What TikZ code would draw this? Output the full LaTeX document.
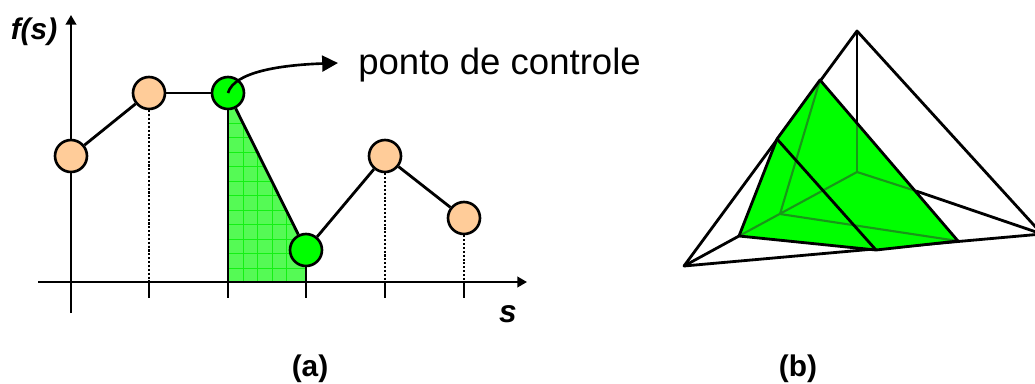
\documentclass[tikz,border=0pt]{standalone}
\usepackage{fontspec}
\usetikzlibrary{arrows.meta}
\setmainfont{Liberation Sans}
\definecolor{pele}{RGB}{255,204,153}
\definecolor{verde}{RGB}{0,255,0}
\definecolor{verdeclaro}{RGB}{85,250,85}
\definecolor{verdegrade}{RGB}{20,240,20}
\definecolor{verdeoculto}{RGB}{25,150,25}
\tikzset{
	ponto/.style={circle, draw, line width=1.5pt, minimum size=6.4mm, inner sep=0pt, fill=pele},
	pontoverde/.style={ponto, fill=verde},
	eixo/.style={line width=1.3pt},
	aresta/.style={line width=1.6pt, line join=round},
	oculta/.style={line width=1.2pt, color=verdeoculto},
	rotulo/.style={font=\fontsize{20.8}{24}\selectfont, inner sep=0pt}
}
\begin{document}
\begin{tikzpicture}[x=0.02cm, y=-0.02cm]
\useasboundingbox (0,0) rectangle (1035,383);

% Area sob o segmento
\fill[verdeclaro] (228,93) -- (306,250) -- (306,282) -- (228,282) -- cycle;
\begin{scope}
	\clip (228,93) -- (306,250) -- (306,282) -- (228,282) -- cycle;
	\foreach \x in {243, 257.5, ..., 300}
		\draw[verdegrade, line width=0.5pt] (\x,93) -- (\x,282);
	\foreach \y in {123, 137.5, ..., 280}
		\draw[verdegrade, line width=0.5pt] (228,\y) -- (306,\y);
\end{scope}

% Eixos
\coordinate (oy) at (71,313);
\coordinate (fy) at (71,15);
\coordinate (ox) at (38,282);
\coordinate (fx) at (527,282);
\draw[eixo, -{Triangle[length=5.5pt, width=6pt]}] (oy) -- (fy);
\draw[eixo, -{Triangle[length=5.5pt, width=6pt]}] (ox) -- (fx);

% Marcas
\foreach \x in {149, 228, 306, 385, 464}
	\draw[eixo] (\x,282) -- (\x,298);

% Pontos de controle
\node[ponto] (p1) at (71,156) {};
\node[ponto] (p2) at (149,93) {};
\node[pontoverde] (p3) at (228,93) {};
\node[pontoverde] (p4) at (306,250) {};
\node[ponto] (p5) at (385,156) {};
\node[ponto] (p6) at (464,218) {};

\draw[aresta] (p1) -- (p2);
\draw[aresta] (p2) -- (p3);
\draw[aresta] (p3) -- (p4);
\draw[aresta] (p4) -- (p5);
\draw[aresta] (p5) -- (p6);

\foreach \p/\q in {p2/149, p5/385, p6/464}
	\draw[line width=1.2pt, densely dotted] (\p) -- (\q,282);
\draw[aresta] (p3) -- (228,282);
\draw[eixo] (p4) -- (306,282);

% Seta
\node[rotulo, anchor=west] (rc) at (358,65) {ponto de controle};
\coordinate (fs) at (338,63);
\draw[line width=1.5pt, -{Triangle[length=9pt, width=9pt]}] (p3.center) .. controls (234,72) and (280,65) .. (fs);

\node[rotulo, font=\fontsize{17}{20}\selectfont\itshape\bfseries, anchor=center] (fs1) at (34,32) {f(s)};
\node[rotulo, font=\fontsize{18}{20}\selectfont\itshape\bfseries, anchor=center] (s1) at (508,314) {s};
\node[rotulo, font=\fontsize{17}{20}\selectfont\bfseries, anchor=center] (a) at (310,369) {(a)};
\node[rotulo, font=\fontsize{17}{20}\selectfont\bfseries, anchor=center] (b) at (798,369) {(b)};

% Tetraedro
\coordinate (T) at (857,31);
\coordinate (L) at (684,266);
\coordinate (R) at (1042,234);
\coordinate (B) at (857,172);
\coordinate (A) at (820,80);
\coordinate (C) at (958,241);
\coordinate (D) at (876,250);
\coordinate (E) at (739,236);
\coordinate (F) at (777,139);
\coordinate (G) at (780,214);
\coordinate (H) at (916,191);
\coordinate (I) at (857,124);

\draw[aresta] (T) -- (L) -- (R) -- cycle;
\draw[aresta] (T) -- (I);
\draw[aresta] (H) -- (R);
\draw[aresta] (L) -- (E);
\fill[verde] (A) -- (C) -- (D) -- (E) -- (F) -- cycle;
\draw[oculta] (I) -- (B);
\draw[oculta] (B) -- (E);
\draw[oculta] (B) -- (H);
\draw[oculta] (A) -- (G);
\draw[oculta] (G) -- (C);
\draw[aresta] (A) -- (C) -- (D) -- (E) -- (F) -- cycle;
\draw[aresta] (F) -- (D);
\end{tikzpicture}
\end{document}
